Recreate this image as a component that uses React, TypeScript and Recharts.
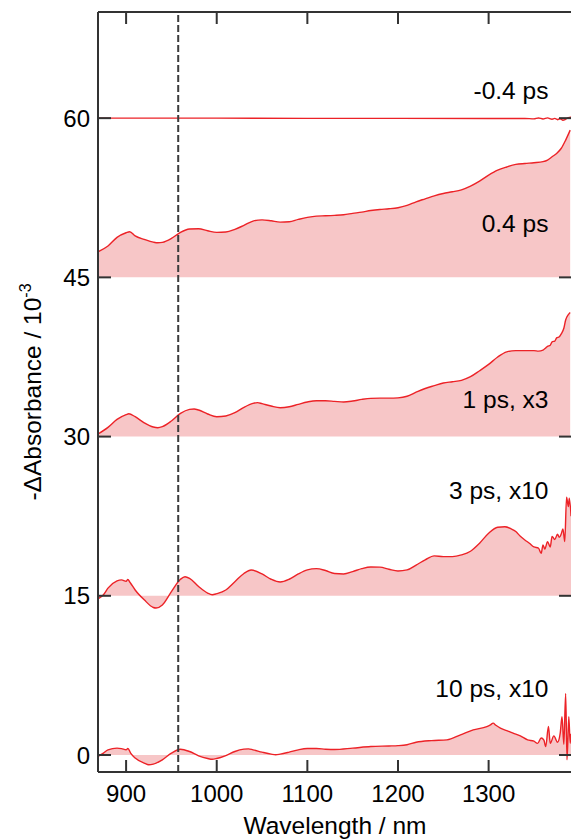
import React from "react";
import { ComposedChart, Area, XAxis, YAxis, ReferenceLine, ReferenceDot } from "recharts";

// wavelength (nm), -dA (1e-3, offset)
const M04: [number, number][] = [
  [869, 60.0], [900, 60.0], [1000, 60.0], [1100, 59.98], [1200, 59.98], [1300, 59.97],
  [1340, 59.97], [1350, 59.93], [1355, 60.02], [1360, 59.92], [1365, 60.03], [1370, 59.9],
  [1373, 59.98], [1376, 59.85], [1379, 59.95], [1382, 59.8], [1385, 59.9], [1388, 60.05], [1391, 60.1],
];

const P04: [number, number][] = [
  [869, 47.41], [880, 47.96], [890, 48.77], [900, 49.2], [904, 49.3], [910, 48.9], [920, 48.58],
  [930, 48.32], [935, 48.26], [940, 48.3], [950, 48.67], [960, 49.24], [970, 49.55], [980, 49.58],
  [990, 49.39], [1000, 49.24], [1010, 49.27], [1020, 49.52], [1030, 49.9], [1040, 50.3], [1050, 50.42],
  [1060, 50.33], [1070, 50.2], [1080, 50.24], [1090, 50.46], [1100, 50.65], [1110, 50.77], [1120, 50.8],
  [1130, 50.84], [1140, 50.9], [1150, 51.03], [1160, 51.15], [1170, 51.3], [1180, 51.4], [1190, 51.46],
  [1200, 51.56], [1210, 51.78], [1220, 52.12], [1230, 52.4], [1240, 52.68], [1250, 52.9], [1260, 53.06],
  [1270, 53.25], [1280, 53.6], [1290, 54.07], [1300, 54.63], [1310, 55.1], [1320, 55.4], [1330, 55.64],
  [1340, 55.73], [1350, 55.8], [1360, 55.9], [1365, 56.05], [1370, 56.36], [1375, 56.67], [1380, 57.14],
  [1385, 57.93], [1390, 58.87],
];

const P1: [number, number][] = [
  [869, 30.24], [880, 30.87], [890, 31.62], [900, 32.06], [903, 32.15], [910, 31.87], [920, 31.3],
  [930, 30.9], [935, 30.83], [940, 30.93], [950, 31.47], [960, 32.18], [970, 32.56], [975, 32.6],
  [980, 32.5], [990, 32.13], [1000, 31.87], [1010, 31.94], [1020, 32.25], [1030, 32.76], [1040, 33.13],
  [1045, 33.2], [1050, 33.1], [1060, 32.88], [1070, 32.72], [1080, 32.81], [1090, 33.04], [1100, 33.26],
  [1110, 33.38], [1120, 33.38], [1130, 33.32], [1140, 33.26], [1150, 33.35], [1160, 33.5], [1170, 33.6],
  [1180, 33.62], [1190, 33.62], [1200, 33.65], [1210, 33.8], [1220, 34.18], [1230, 34.53], [1240, 34.8],
  [1250, 35.05], [1260, 35.17], [1270, 35.3], [1280, 35.64], [1290, 36.2], [1300, 36.8], [1310, 37.5],
  [1320, 37.98], [1330, 38.1], [1340, 38.1], [1350, 38.1], [1355, 38.05], [1360, 38.15], [1363, 38.35],
  [1365, 38.5], [1368, 38.6], [1370, 38.93], [1373, 39.0], [1375, 39.3], [1378, 39.4], [1380, 39.66],
  [1383, 40.2], [1385, 40.98], [1388, 41.5], [1390, 41.7],
];

const P3: [number, number][] = [
  [869, 14.71], [875, 15.1], [880, 15.72], [890, 16.4], [895, 16.5], [900, 16.37], [902, 16.55],
  [904, 16.3], [905, 16.18], [910, 15.55], [920, 14.62], [930, 13.9], [933, 13.85], [940, 14.14],
  [950, 15.4], [960, 16.56], [965, 16.8], [970, 16.65], [980, 15.87], [990, 15.25], [995, 15.1],
  [1000, 15.2], [1010, 15.55], [1020, 16.33], [1030, 17.1], [1038, 17.43], [1050, 17.06], [1060, 16.56],
  [1070, 16.3], [1080, 16.56], [1090, 17.06], [1100, 17.44], [1110, 17.56], [1120, 17.38], [1130, 17.1],
  [1140, 17.06], [1150, 17.28], [1160, 17.56], [1170, 17.72], [1180, 17.7], [1190, 17.5], [1200, 17.34],
  [1210, 17.44], [1220, 17.9], [1230, 18.38], [1240, 18.76], [1250, 18.69], [1260, 18.69], [1270, 18.85],
  [1280, 19.2], [1290, 19.95], [1300, 20.9], [1310, 21.46], [1318, 21.5], [1325, 21.3], [1330, 21.05],
  [1335, 20.6], [1340, 20.26], [1345, 19.95], [1350, 19.6], [1355, 19.5], [1358, 19.0], [1360, 19.8],
  [1362, 19.4], [1365, 20.1], [1368, 19.6], [1370, 20.6], [1373, 20.3], [1376, 20.8], [1378, 20.5],
  [1380, 20.8], [1382, 21.3], [1384, 20.1], [1386, 24.3], [1388, 23.4], [1389, 24.2], [1391, 22.5],
];

const P10: [number, number][] = [
  [869, -0.14], [875, 0.18], [880, 0.49], [890, 0.65], [895, 0.6], [900, 0.49], [902, 0.62],
  [905, 0.18], [910, -0.29], [920, -0.76], [925, -0.92], [930, -0.86], [940, -0.45], [950, 0.18],
  [960, 0.55], [970, 0.33], [980, -0.08], [990, -0.33], [995, -0.4], [1000, -0.33], [1010, -0.05],
  [1020, 0.33], [1030, 0.55], [1035, 0.58], [1040, 0.49], [1050, 0.27], [1060, 0.08], [1065, 0.02],
  [1070, 0.08], [1080, 0.27], [1090, 0.49], [1100, 0.61], [1110, 0.61], [1120, 0.55], [1130, 0.52],
  [1150, 0.65], [1170, 0.8], [1190, 0.85], [1200, 0.88], [1210, 0.97], [1220, 1.2], [1237, 1.36],
  [1254, 1.43], [1269, 1.9], [1283, 2.37], [1298, 2.68], [1302, 2.85], [1305, 3.0], [1308, 2.8],
  [1313, 2.53], [1320, 2.3], [1327, 2.06], [1335, 1.8], [1343, 1.43], [1350, 1.3], [1354, 1.1],
  [1358, 1.6], [1361, 1.4], [1363, 0.8], [1366, 2.7], [1368, 1.1], [1372, 1.8], [1376, 1.2],
  [1379, 2.06], [1381, 3.6], [1383, 1.0], [1385, 5.8], [1386.5, -0.45], [1388.5, 3.6], [1390, 1.1],
  [1391, 2.0],
];

const SERIES = [
  { name: "-0.4 ps", pts: M04, base: 60, labelY: 61.8 },
  { name: "0.4 ps", pts: P04, base: 45, labelY: 49.27 },
  { name: "1 ps, x3", pts: P1, base: 30, labelY: 32.7 },
  { name: "3 ps, x10", pts: P3, base: 15, labelY: 24.1 },
  { name: "10 ps, x10", pts: P10, base: 0, labelY: 5.48 },
];

const X_TICKS = [900, 1000, 1100, 1200, 1300];
const Y_TICKS = [0, 15, 30, 45, 60];
const MARKER_WL = 957.5;
const LABEL_WL = 1366;

const FONT = "Arial, 'Liberation Sans', Helvetica, sans-serif";
const AXIS = "#333333";
const LINE = "#ec2227";
const FILL = "#f7c6c7";

const toRows = (pts: [number, number][]) => pts.map(([wl, v]) => ({ wl, v }));

const XLabel = (props: any) => {
  const vb = props.viewBox;
  return (
    <text x={vb.x + vb.width / 2} y={vb.y + 62} textAnchor="middle" fontSize={24.5} fontFamily={FONT} fill="#000">
      Wavelength / nm
    </text>
  );
};

const YLabel = (props: any) => {
  const vb = props.viewBox;
  const cx = 41;
  const cy = vb.y + vb.height / 2;
  return (
    <text x={cx} y={cy} textAnchor="middle" fontSize={24.5} fontFamily={FONT} fill="#000" transform={`rotate(-90, ${cx}, ${cy})`}>
      -ΔAbsorbance / 10
      <tspan fontSize={16} dy={-10}>-3</tspan>
    </text>
  );
};

const seriesLabel = (text: string) => (props: any) => {
  const vb = props.viewBox;
  return (
    <text x={vb.x + vb.width / 2} y={vb.y + vb.height / 2} textAnchor="end" fontSize={24.5} fontFamily={FONT} fill="#000">
      {text}
    </text>
  );
};

export default function App() {
  return (
    <div style={{ position: "absolute", left: 0, top: 0, width: 571, height: 840, overflow: "hidden", background: "#fff" }}>
      <ComposedChart width={575} height={840} margin={{ top: 0, right: 0, bottom: 0, left: 0 }}>
        <XAxis
          xAxisId="b"
          type="number"
          dataKey="wl"
          orientation="bottom"
          domain={[869, 1392]}
          ticks={X_TICKS}
          allowDataOverflow
          height={68}
          tickSize={-12}
          tickMargin={25}
          stroke={AXIS}
          strokeWidth={2}
          tick={{ fill: "#000", fontSize: 24, fontFamily: FONT }}
          label={{ content: XLabel }}
        />
        <XAxis
          xAxisId="t"
          type="number"
          dataKey="wl"
          orientation="top"
          domain={[869, 1392]}
          ticks={X_TICKS}
          allowDataOverflow
          height={12}
          tickSize={-12}
          tickFormatter={() => ""}
          stroke={AXIS}
          strokeWidth={2}
        />
        <YAxis
          yAxisId="l"
          type="number"
          domain={[-1.6, 70]}
          ticks={Y_TICKS}
          allowDataOverflow
          width={98}
          tickSize={-13}
          tickMargin={21}
          stroke={AXIS}
          strokeWidth={2}
          tick={{ fill: "#000", fontSize: 24, fontFamily: FONT }}
          label={{ content: YLabel }}
        />
        <YAxis
          yAxisId="r"
          orientation="right"
          type="number"
          domain={[-1.6, 70]}
          ticks={Y_TICKS}
          allowDataOverflow
          width={3}
          tickSize={-13}
          tickFormatter={() => ""}
          stroke={AXIS}
          strokeWidth={2}
        />
        {SERIES.map((s) => (
          <Area
            key={s.name}
            xAxisId="b"
            yAxisId="l"
            data={toRows(s.pts)}
            dataKey="v"
            type="monotone"
            baseValue={s.base}
            stroke={LINE}
            strokeWidth={1.4}
            fill={FILL}
            fillOpacity={1}
            dot={false}
            activeDot={false}
            isAnimationActive={false}
          />
        ))}
        <ReferenceLine xAxisId="b" yAxisId="l" x={MARKER_WL} stroke="#3c3c3c" strokeWidth={2} strokeDasharray="7 3" />
        {SERIES.map((s) => (
          <ReferenceDot
            key={"lbl" + s.name}
            xAxisId="b"
            yAxisId="l"
            x={LABEL_WL}
            y={s.labelY}
            r={1}
            fill="none"
            stroke="none"
            label={{ content: seriesLabel(s.name) }}
          />
        ))}
      </ComposedChart>
    </div>
  );
}
